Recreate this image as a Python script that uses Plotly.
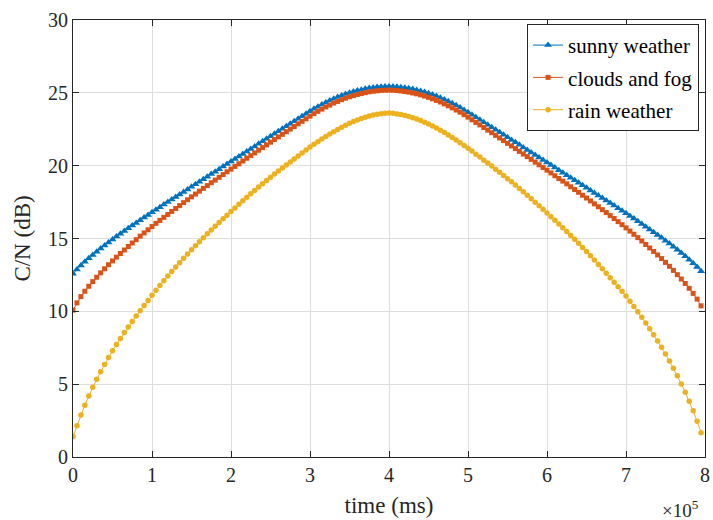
import plotly.graph_objects as go

# sample times (ms)
time_ms = list(range(0, 800000, 5000))

sunny_weather = [
    12.58, 12.88, 13.15, 13.40, 13.64, 13.87, 14.09, 14.31, 14.52, 14.73,
    14.93, 15.13, 15.32, 15.51, 15.70, 15.89, 16.07, 16.26, 16.44, 16.62,
    16.80, 16.98, 17.15, 17.33, 17.50, 17.68, 17.85, 18.02, 18.20, 18.37,
    18.55, 18.72, 18.90, 19.07, 19.24, 19.42, 19.59, 19.76, 19.94, 20.11,
    20.28, 20.46, 20.63, 20.80, 20.98, 21.15, 21.32, 21.50, 21.67, 21.84,
    22.02, 22.19, 22.36, 22.53, 22.71, 22.88, 23.05, 23.22, 23.39, 23.56,
    23.73, 23.90, 24.05, 24.20, 24.34, 24.47, 24.60, 24.71, 24.82, 24.92,
    25.01, 25.09, 25.16, 25.22, 25.28, 25.33, 25.37, 25.40, 25.42, 25.43,
    25.44,
    25.43, 25.41, 25.39, 25.35, 25.31, 25.26, 25.20, 25.13, 25.06, 24.97,
    24.88, 24.78, 24.67, 24.55, 24.42, 24.28, 24.14, 23.99, 23.83, 23.66,
    23.49, 23.32, 23.15, 22.98, 22.81, 22.64, 22.46, 22.29, 22.12, 21.95,
    21.77, 21.60, 21.43, 21.25, 21.08, 20.91, 20.73, 20.56, 20.39, 20.21,
    20.04, 19.87, 19.69, 19.52, 19.35, 19.17, 19.00, 18.83, 18.65, 18.48,
    18.30, 18.13, 17.95, 17.78, 17.61, 17.43, 17.26, 17.08, 16.91, 16.73,
    16.55, 16.37, 16.18, 16.00, 15.81, 15.62, 15.43, 15.24, 15.05, 14.85,
    14.65, 14.44, 14.22, 14.00, 13.78, 13.54, 13.30, 13.04, 12.76,
]

clouds_and_fog = [
    10.08, 10.58, 11.01, 11.38, 11.72, 12.04, 12.34, 12.64, 12.92, 13.20,
    13.46, 13.72, 13.97, 14.21, 14.45, 14.69, 14.92, 15.16, 15.38, 15.60,
    15.82, 16.04, 16.24, 16.45, 16.65, 16.86, 17.06, 17.26, 17.46, 17.66,
    17.86, 18.05, 18.25, 18.44, 18.63, 18.83, 19.01, 19.20, 19.39, 19.58,
    19.76, 19.95, 20.13, 20.32, 20.51, 20.69, 20.87, 21.06, 21.24, 21.42,
    21.61, 21.79, 21.97, 22.15, 22.33, 22.51, 22.69, 22.87, 23.04, 23.22,
    23.40, 23.57, 23.73, 23.88, 24.03, 24.16, 24.30, 24.41, 24.53, 24.63,
    24.73, 24.81, 24.89, 24.95, 25.01, 25.07, 25.11, 25.14, 25.17, 25.18,
    25.19,
    25.18, 25.16, 25.13, 25.09, 25.05, 24.99, 24.93, 24.86, 24.78, 24.69,
    24.59, 24.48, 24.37, 24.24, 24.11, 23.97, 23.82, 23.67, 23.50, 23.33,
    23.15, 22.97, 22.80, 22.62, 22.44, 22.26, 22.08, 21.90, 21.72, 21.53,
    21.35, 21.17, 20.98, 20.80, 20.62, 20.43, 20.24, 20.06, 19.87, 19.69,
    19.50, 19.31, 19.12, 18.94, 18.75, 18.55, 18.36, 18.17, 17.97, 17.78,
    17.58, 17.38, 17.18, 16.98, 16.78, 16.57, 16.37, 16.16, 15.95, 15.73,
    15.51, 15.29, 15.06, 14.83, 14.59, 14.35, 14.11, 13.87, 13.62, 13.36,
    13.09, 12.81, 12.52, 12.22, 11.91, 11.58, 11.23, 10.84, 10.38,
]

rain_weather = [
    1.40, 2.15, 2.88, 3.55, 4.18, 4.78, 5.33, 5.85, 6.35, 6.83,
    7.29, 7.72, 8.14, 8.54, 8.93, 9.31, 9.68, 10.04, 10.40, 10.75,
    11.10, 11.44, 11.77, 12.10, 12.42, 12.73, 13.04, 13.34, 13.64, 13.93,
    14.22, 14.50, 14.78, 15.05, 15.32, 15.58, 15.84, 16.10, 16.35, 16.60,
    16.85, 17.10, 17.35, 17.59, 17.83, 18.07, 18.30, 18.53, 18.76, 18.98,
    19.20, 19.42, 19.63, 19.84, 20.05, 20.26, 20.46, 20.67, 20.87, 21.08,
    21.28, 21.47, 21.65, 21.83, 22.00, 22.17, 22.33, 22.49, 22.64, 22.78,
    22.91, 23.03, 23.14, 23.24, 23.33, 23.41, 23.48, 23.53, 23.57, 23.60,
    23.61,
    23.59, 23.55, 23.51, 23.45, 23.38, 23.29, 23.20, 23.10, 22.98, 22.86,
    22.72, 22.58, 22.43, 22.27, 22.10, 21.93, 21.76, 21.58, 21.39, 21.20,
    21.00, 20.79, 20.59, 20.38, 20.18, 19.97, 19.76, 19.55, 19.33, 19.11,
    18.89, 18.67, 18.44, 18.21, 17.97, 17.73, 17.49, 17.25, 17.00, 16.75,
    16.50, 16.25, 16.00, 15.74, 15.48, 15.21, 14.94, 14.67, 14.39, 14.10,
    13.81, 13.52, 13.22, 12.92, 12.61, 12.30, 11.99, 11.69, 11.38, 11.05,
    10.70, 10.34, 9.97, 9.59, 9.20, 8.80, 8.39, 7.97, 7.53, 7.07,
    6.59, 6.09, 5.57, 5.02, 4.44, 3.83, 3.17, 2.45, 1.67,
]

x_tick_vals = [0, 100000, 200000, 300000, 400000, 500000, 600000, 700000, 800000]
x_tick_text = ["0", "1", "2", "3", "4", "5", "6", "7", "8"]
y_tick_vals = [0, 5, 10, 15, 20, 25, 30]

FONT = "Liberation Serif"
AX = "#262626"
GRID = "#dedede"

fig = go.Figure()
fig.add_trace(go.Scatter(
    x=time_ms, y=sunny_weather, mode="lines+markers", name="sunny weather",
    legendgroup="a",
    line=dict(color="#0072BD", width=1),
    marker=dict(symbol="triangle-up", size=7, color="#0072BD")))
fig.add_trace(go.Scatter(
    x=time_ms, y=clouds_and_fog, mode="lines+markers", name="clouds and fog",
    legendgroup="b",
    line=dict(color="#D95319", width=1),
    marker=dict(symbol="square", size=5, color="#D95319")))
fig.add_trace(go.Scatter(
    x=time_ms, y=rain_weather, mode="lines+markers", name="rain weather",
    legendgroup="c",
    line=dict(color="#EDB120", width=1),
    marker=dict(symbol="circle", size=5.5, color="#EDB120")))

axis_common = dict(
    showline=True, linecolor=AX, linewidth=1, mirror="ticks",
    ticks="inside", ticklen=6, tickcolor=AX, tickwidth=1,
    showgrid=True, gridcolor=GRID, gridwidth=1, zeroline=False,
    tickfont=dict(family=FONT, size=20, color=AX),
    ticklabeloverflow="allow",
)

fig.update_layout(
    width=713, height=520,
    margin=dict(l=73, r=3, t=20, b=63),
    paper_bgcolor="white", plot_bgcolor="white",
    font=dict(family=FONT, color=AX),
    xaxis=dict(range=[0, 800000], tickvals=x_tick_vals, ticktext=x_tick_text,
               title=dict(text="time (ms)", font=dict(family=FONT, size=23, color=AX), standoff=11),
               **axis_common),
    yaxis=dict(range=[0, 30], tickvals=y_tick_vals,
               title=dict(text="C/N (dB)", font=dict(family=FONT, size=23, color=AX), standoff=10),
               **axis_common),
    legend=dict(x=0.9906, y=0.991, xanchor="right", yanchor="top",
                bgcolor="white", bordercolor=AX, borderwidth=1,
                font=dict(family=FONT, size=21, color="black"),
                itemwidth=30, tracegroupgap=2),
    showlegend=True,
)

fig.add_annotation(text="×10<sup>5</sup>", xref="paper", yref="paper",
                   x=0.993, y=-0.118, xanchor="right", yanchor="middle",
                   showarrow=False, font=dict(family=FONT, size=19, color=AX))

fig.write_html("out.html")
